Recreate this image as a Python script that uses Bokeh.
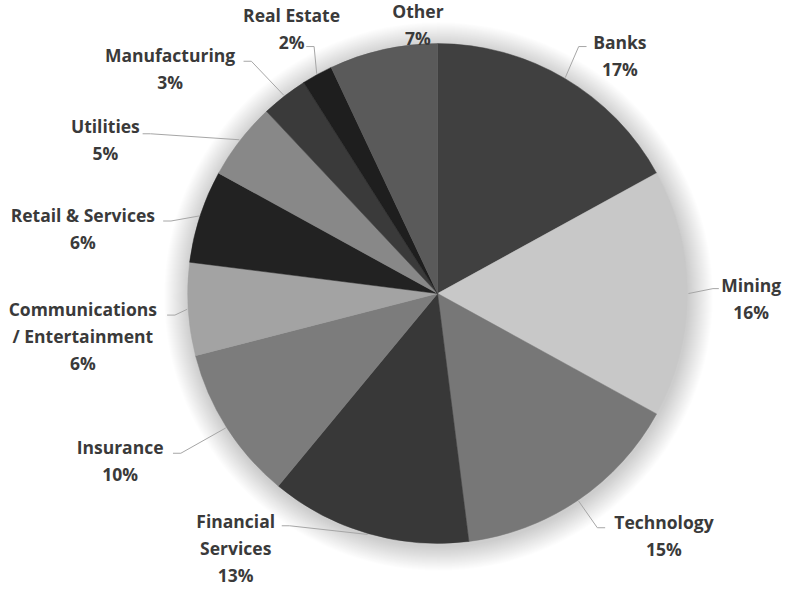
import math
from bokeh.plotting import figure
from bokeh.models import Range1d, ColumnDataSource
from bokeh.core.properties import value
from bokeh.embed import file_html
from bokeh.resources import INLINE

# ---------------- data ----------------
sectors = ["Banks", "Mining", "Technology", "Financial\nServices", "Insurance",
           "Communications\n/ Entertainment", "Retail & Services", "Utilities",
           "Manufacturing", "Real Estate", "Other"]
shares = [17, 16, 15, 13, 10, 6, 6, 5, 3, 2, 7]

# ---------------- styles / layout ----------------
colors = ["#404040", "#c8c8c8", "#777777", "#383838", "#7c7c7c", "#a3a3a3",
          "#222222", "#888888", "#3a3a3a", "#1e1e1e", "#5a5a5a"]
W_REF, H_REF = 800, 600          # layout space (y down)
CX, CY, R = 446, 299, 255        # pie centre / radius in layout space
# label first-line centre (layout coords)
label_pos = [(632, 42), (766, 290), (677, 532), (240, 531), (122, 456),
             (84, 315), (84, 219), (107, 128), (173, 56), (297, 15), (426, 11)]
# leader elbow points (layout coords); None = no leader
elbows = [[(590, 47), (598, 47)], [(727, 294), (733, 294)], [(609, 538), (617, 538)],
          [(295, 536), (287, 536)], [(184, 462), (176, 462)], [(178, 321), (170, 321)],
          [(174, 225), (166, 225)], [(153, 136), (145, 136)], [(256, 62), (248, 62)],
          [(320, 47), (312, 47)], None]
LINE_H = 27.5
FONT = "Open Sans"
TEXT_COLOR = "#3a3a3a"


def sy(y):
    return H_REF - y


p = figure(width=784, height=588, x_range=Range1d(0, W_REF), y_range=Range1d(0, H_REF),
           output_backend="svg", toolbar_location=None, min_border=0,
           background_fill_color="white", border_fill_color="white")
p.outline_line_color = None
p.axis.visible = False
p.xgrid.visible = False
p.ygrid.visible = False

cx, cy = CX, sy(CY)

# soft shadow halo
for k in range(1, 26):
    p.circle(x=cx + 1, y=cy - 3, radius=R + k, radius_units="data",
             fill_color="black", fill_alpha=0.0065, line_color=None)

total = sum(shares)
starts, ends, mids = [], [], []
acc = 0
for v in shares:
    a0 = math.pi / 2 - 2 * math.pi * acc / total
    acc += v
    a1 = math.pi / 2 - 2 * math.pi * acc / total
    starts.append(a0)
    ends.append(a1)
    mids.append((a0 + a1) / 2)

src = ColumnDataSource(dict(start=starts, end=ends, color=colors,
                            name=[s.replace("\n", " ") for s in sectors], share=shares))
p.wedge(x=cx, y=cy, radius=R, start_angle="start", end_angle="end", direction="clock",
        fill_color="color", line_color="color", line_width=0.5, source=src)

# leader lines
xs, ys = [], []
for m, el in zip(mids, elbows):
    if el is None:
        continue
    px = cx + (R + 1) * math.cos(m)
    py = cy + (R + 1) * math.sin(m)
    xs.append([px] + [e[0] for e in el])
    ys.append([py] + [sy(e[1]) for e in el])
p.multi_line(xs=xs, ys=ys, line_color="#a6a6a6", line_width=1)

# labels
tx, ty, tt = [], [], []
for name, v, (lx, ly) in zip(sectors, shares, label_pos):
    lines = name.split("\n") + [f"{v}%"]
    for j, ln in enumerate(lines):
        tx.append(lx)
        ty.append(sy(ly + LINE_H * j))
        tt.append(ln)
p.text(x=tx, y=ty, text=tt, text_font=value(FONT), text_font_style="bold",
       text_font_size="17.5px", text_color=TEXT_COLOR, text_align="center",
       text_baseline="middle")

open("out.html", "w").write(file_html(p, INLINE))
